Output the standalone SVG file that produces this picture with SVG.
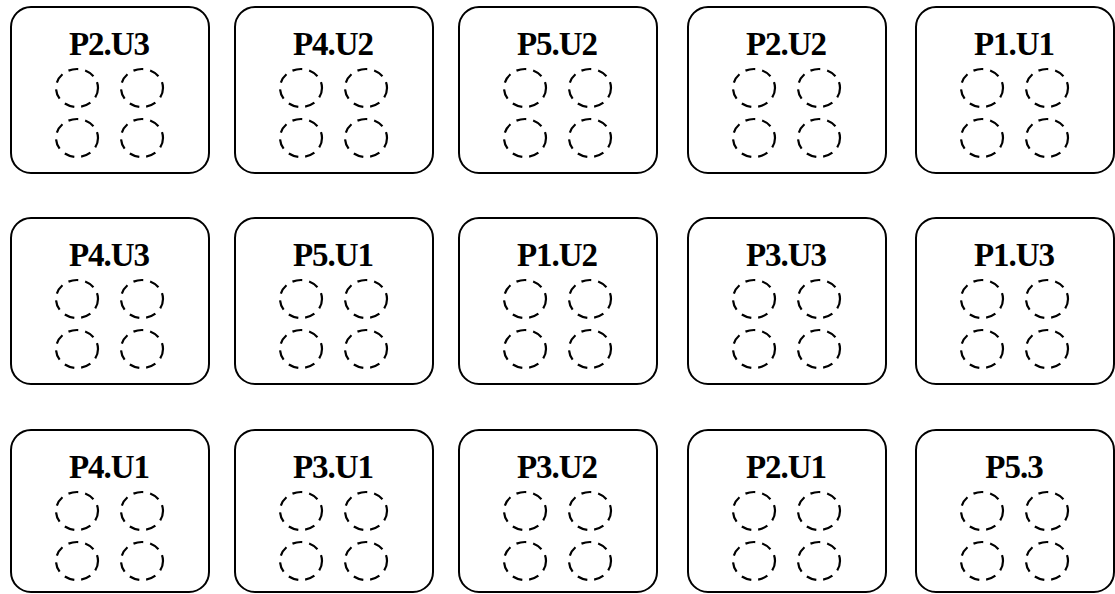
<svg xmlns="http://www.w3.org/2000/svg" width="1115" height="594" viewBox="0 0 1115 594">
<style>
.box{fill:#fff;stroke:#000;stroke-width:2}
.c{fill:none;stroke:#000;stroke-width:2.2;stroke-dasharray:10,7}
.t{font-family:"Liberation Serif",serif;font-weight:bold;font-size:33px;letter-spacing:-1px;text-anchor:middle;fill:#000}
</style>
<defs>
<g id="dots">
<ellipse class="c" cx="66" cy="81" rx="21" ry="19"/>
<ellipse class="c" cx="131" cy="81" rx="21" ry="19"/>
<ellipse class="c" cx="66" cy="131" rx="21" ry="19"/>
<ellipse class="c" cx="131" cy="131" rx="21" ry="19"/>
</g>
</defs>
<rect width="1115" height="594" fill="#fff"/>
<g id="n-P2U3" transform="translate(11,7)"><rect class="box" width="198" height="166" rx="20"/><use href="#dots"/><text class="t" x="98" y="48">P2.U3</text></g>
<g id="n-P4U2" transform="translate(235,7)"><rect class="box" width="198" height="166" rx="20"/><use href="#dots"/><text class="t" x="98" y="48">P4.U2</text></g>
<g id="n-P5U2" transform="translate(459,7)"><rect class="box" width="198" height="166" rx="20"/><use href="#dots"/><text class="t" x="98" y="48">P5.U2</text></g>
<g id="n-P2U2" transform="translate(688,7)"><rect class="box" width="198" height="166" rx="20"/><use href="#dots"/><text class="t" x="98" y="48">P2.U2</text></g>
<g id="n-P1U1" transform="translate(916,7)"><rect class="box" width="198" height="166" rx="20"/><use href="#dots"/><text class="t" x="98" y="48">P1.U1</text></g>
<g id="n-P4U3" transform="translate(11,218)"><rect class="box" width="198" height="166" rx="20"/><use href="#dots"/><text class="t" x="98" y="48">P4.U3</text></g>
<g id="n-P5U1" transform="translate(235,218)"><rect class="box" width="198" height="166" rx="20"/><use href="#dots"/><text class="t" x="98" y="48">P5.U1</text></g>
<g id="n-P1U2" transform="translate(459,218)"><rect class="box" width="198" height="166" rx="20"/><use href="#dots"/><text class="t" x="98" y="48">P1.U2</text></g>
<g id="n-P3U3" transform="translate(688,218)"><rect class="box" width="198" height="166" rx="20"/><use href="#dots"/><text class="t" x="98" y="48">P3.U3</text></g>
<g id="n-P1U3" transform="translate(916,218)"><rect class="box" width="198" height="166" rx="20"/><use href="#dots"/><text class="t" x="98" y="48">P1.U3</text></g>
<g id="n-P4U1" transform="translate(11,430)"><rect class="box" width="198" height="162" rx="20"/><use href="#dots"/><text class="t" x="98" y="48">P4.U1</text></g>
<g id="n-P3U1" transform="translate(235,430)"><rect class="box" width="198" height="162" rx="20"/><use href="#dots"/><text class="t" x="98" y="48">P3.U1</text></g>
<g id="n-P3U2" transform="translate(459,430)"><rect class="box" width="198" height="162" rx="20"/><use href="#dots"/><text class="t" x="98" y="48">P3.U2</text></g>
<g id="n-P2U1" transform="translate(688,430)"><rect class="box" width="198" height="162" rx="20"/><use href="#dots"/><text class="t" x="98" y="48">P2.U1</text></g>
<g id="n-P53" transform="translate(916,430)"><rect class="box" width="198" height="162" rx="20"/><use href="#dots"/><text class="t" x="98" y="48">P5.3</text></g>
<g id="connectors"/>
</svg>
